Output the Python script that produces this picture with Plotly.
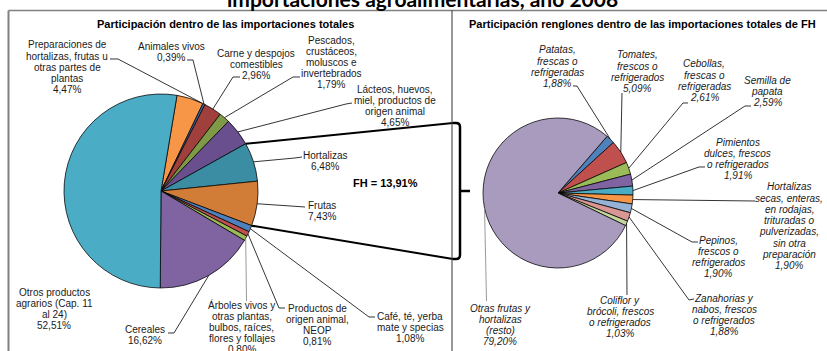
import math
import plotly.graph_objects as go

W, H = 827, 351

# ---- data: share of total agri-food imports (left pie) ----
tot_names = [
    "Preparaciones de hortalizas, frutas u otras partes de plantas",
    "Animales vivos",
    "Carne y despojos comestibles",
    "Pescados, crustáceos, moluscos e invertebrados",
    "Lácteos, huevos, miel, productos de origen animal",
    "Hortalizas",
    "Frutas",
    "Café, té, yerba mate y specias",
    "Productos de origen animal, NEOP",
    "Árboles vivos y otras plantas, bulbos, raíces, flores y follajes",
    "Cereales",
    "Otros productos agrarios (Cap. 11 al 24)",
]
tot_values = [4.47, 0.39, 2.96, 1.79, 4.65, 6.48, 7.43, 1.08, 0.81, 0.80, 16.62, 52.51]
tot_lines = [
    ["Preparaciones de", "hortalizas, frutas u", "otras partes de", "plantas"],
    ["Animales vivos"],
    ["Carne y despojos", "comestibles"],
    ["Pescados,", "crustáceos,", "moluscos e", "invertebrados"],
    ["Lácteos, huevos,", "miel, productos de", "origen animal"],
    ["Hortalizas"],
    ["Frutas"],
    ["Café, té, yerba", "mate y specias"],
    ["Productos de", "origen animal,", "NEOP"],
    ["Árboles vivos y", "otras plantas,", "bulbos, raíces,", "flores y follajes"],
    ["Cereales"],
    ["Otros productos", "agrarios (Cap. 11", "al 24)"],
]
fh_items = ["Hortalizas", "Frutas"]

# ---- data: breakdown of fruit & vegetable (FH) imports (right pie) ----
fh_names = [
    "Patatas, frescas o refrigeradas",
    "Tomates, frescos o refrigerados",
    "Cebollas, frescas o refrigeradas",
    "Semilla de papata",
    "Pimientos dulces, frescos o refrigerados",
    "Hortalizas secas, enteras, en rodajas, trituradas o pulverizadas, sin otra preparación",
    "Pepinos, frescos o refrigerados",
    "Zanahorias y nabos, frescos o refrigerados",
    "Coliflor y brócoli, frescos o refrigerados",
    "Otras frutas y hortalizas (resto)",
]
fh_values = [1.88, 5.09, 2.61, 2.59, 1.91, 1.90, 1.90, 1.88, 1.03, 79.20]
fh_lines = [
    ["Patatas,", "frescas o", "refrigeradas"],
    ["Tomates,", "frescos o", "refrigerados"],
    ["Cebollas,", "frescas o", "refrigeradas"],
    ["Semilla de", "papata"],
    ["Pimientos", "dulces, frescos", "o refrigerados"],
    ["Hortalizas", "secas, enteras,", "en rodajas,", "trituradas o", "pulverizadas,", "sin otra", "preparación"],
    ["Pepinos,", "frescos o", "refrigerados"],
    ["Zanahorias y", "nabos, frescos", "o refrigerados"],
    ["Coliflor y", "brócoli, frescos", "o refrigerados"],
    ["Otras frutas y", "hortalizas", "(resto)"],
]

# ---- styling ----
tot_colors = ["#F79646", "#3B66A0", "#A0403D", "#7E9A47", "#6A4F8E", "#3A8DA3",
              "#D17D38", "#4F81BD", "#C0504D", "#9BBB59", "#8064A2", "#4BACC6"]
fh_colors = ["#4F81BD", "#C0504D", "#9BBB59", "#8064A2", "#4BACC6", "#F79646",
             "#95B3D7", "#D99694", "#C3D69B", "#A89BBE"]

FONT = "Liberation Sans, Arial, sans-serif"
TXT = "#1a1a1a"
LINE_H = 11.2

# pie geometry (pixels)
L_CX, L_CY, L_R, L_ROT = 161, 191, 97, 9.5
R_CX, R_CY, R_R, R_ROT = 558, 193, 75, 40.9


def px(x):
    return x / W


def py(y):
    return 1 - y / H


def fmt(v):
    return f"{v:.2f}".replace(".", ",") + "%"


def slice_point(values, idx, rot, cx, cy, r, frac=0.5):
    total = sum(values)
    ang = rot + 360 * (sum(values[:idx]) + values[idx] * frac) / total
    a = math.radians(ang)
    return cx + r * math.sin(a), cy - r * math.cos(a)


def path(points):
    return "M " + " L ".join(f"{px(x):.5f},{py(y):.5f}" for x, y in points)


# label placement: (center x, first line y, leader points near label, anchor fraction, leader colour)
tot_place = [
    (67, 45, [(110, 59), (118, 59)], 0.95, "#000"),
    (171, 46, [(187, 60), (193, 60)], 0.5, "#000"),
    (256, 53, [(240, 77), (233, 77)], 0.5, "#000"),
    (331, 40, [(300, 77), (293, 77)], 0.5, "#000"),
    (395, 89, [(352, 103), (346, 104)], 0.5, "#000"),
    (325, 155, [(302, 157), (295, 158)], 0.5, "#000"),
    (322, 205, [(305, 207)], 0.5, "#000"),
    (410, 316, [(375, 317), (369, 317)], 0.5, "#000"),
    (317, 308, [(285, 308), (279, 308)], 0.5, "#000"),
    (242, 305, [(246.5, 301)], 0.5, "#7f7f7f"),
    (145, 329, [(168, 333), (174, 333)], 0.5, "#000"),
    (54, 292, None, 0.5, "#000"),
]
fh_place = [
    (557, 50, [(573, 86), (577, 86)], 0.5, "#000"),
    (637, 55, [(622, 93)], 0.5, "#000"),
    (704, 64, [(688, 103), (683, 103)], 0.5, "#000"),
    (767, 80, [(751, 106), (745, 106)], 0.5, "#000"),
    (737.5, 142, [(705, 167), (699, 167)], 0.5, "#000"),
    (789, 187, [(755, 201)], 0.5, "#000"),
    (718, 240, [(698, 242), (692, 242)], 0.5, "#000"),
    (724, 298, [(694, 299), (689, 300)], 0.5, "#000"),
    (620, 300, [(627, 295)], 0.5, "#000"),
    (500, 308, [(486.5, 301)], 0.5, "#7f7f7f"),
]

fig = go.Figure()

fig.add_trace(go.Pie(
    labels=tot_names, values=tot_values, sort=False, direction="clockwise",
    rotation=L_ROT, textinfo="none", showlegend=False,
    marker=dict(colors=tot_colors, line=dict(color="#000", width=0.75)),
    domain=dict(x=[px(L_CX - L_R), px(L_CX + L_R)], y=[py(L_CY + L_R), py(L_CY - L_R)]),
    hovertemplate="%{label}: %{value:.2f}%<extra></extra>",
))
fig.add_trace(go.Pie(
    labels=fh_names, values=fh_values, sort=False, direction="clockwise",
    rotation=R_ROT, textinfo="none", showlegend=False,
    marker=dict(colors=fh_colors, line=dict(color="#000", width=0.75)),
    domain=dict(x=[px(R_CX - R_R), px(R_CX + R_R)], y=[py(R_CY + R_R), py(R_CY - R_R)]),
    hovertemplate="%{label}: %{value:.2f}%<extra></extra>",
))

annotations = []
shapes = []


def add_labels(values, lines, place, geom, italic):
    cx0, cy0, r0, rot0 = geom
    for i, (v, ls) in enumerate(zip(values, lines)):
        x, y0, lead, frac, lcol = place[i]
        for k, t in enumerate(ls + [fmt(v)]):
            annotations.append(dict(
                x=px(x), y=py(y0 + k * LINE_H), xref="paper", yref="paper",
                text=f"<i>{t}</i>" if italic else t, showarrow=False,
                xanchor="center", yanchor="middle",
                font=dict(family=FONT, size=10, color=TXT),
            ))
        if lead:
            ex, ey = slice_point(values, i, rot0, cx0, cy0, r0, frac)
            shapes.append(dict(type="path", xref="paper", yref="paper",
                               path=path(lead + [(ex, ey)]),
                               line=dict(color=lcol, width=0.8)))


add_labels(tot_values, tot_lines, tot_place, (L_CX, L_CY, L_R, L_ROT), False)
add_labels(fh_values, fh_lines, fh_place, (R_CX, R_CY, R_R, R_ROT), True)

# connector from the FH slices of the left pie to the bracket
i_first = tot_names.index(fh_items[0])
i_last = tot_names.index(fh_items[-1])
p_top = slice_point(tot_values, i_first, L_ROT, L_CX, L_CY, L_R, 0.0)
p_bot = slice_point(tot_values, i_last, L_ROT, L_CX, L_CY, L_R, 1.0)
shapes.append(dict(type="path", xref="paper", yref="paper",
                   path=path([p_top, (453, 123)]), line=dict(color="#000", width=2)))
shapes.append(dict(type="path", xref="paper", yref="paper",
                   path=path([p_bot, (453, 259)]), line=dict(color="#000", width=2)))
bracket = (f"M {px(453):.5f},{py(123):.5f} L {px(456):.5f},{py(123):.5f} "
           f"Q {px(460):.5f},{py(123):.5f} {px(460):.5f},{py(127):.5f} "
           f"L {px(460):.5f},{py(255):.5f} "
           f"Q {px(460):.5f},{py(259):.5f} {px(456):.5f},{py(259):.5f} "
           f"L {px(453):.5f},{py(259):.5f}")
shapes.append(dict(type="path", xref="paper", yref="paper", path=bracket,
                   line=dict(color="#000", width=2.5)))
shapes.append(dict(type="path", xref="paper", yref="paper",
                   path=path([(460, 191), (470, 191)]), line=dict(color="#000", width=2.5)))

fh_total = sum(tot_values[tot_names.index(n)] for n in fh_items)
annotations.append(dict(
    x=px(385), y=py(183), xref="paper", yref="paper", showarrow=False,
    text="<b>FH = " + fmt(fh_total) + "</b>", xanchor="center", yanchor="middle",
    font=dict(family=FONT, size=11, color="#000"),
))

# panel frames
shapes.append(dict(type="line", xref="paper", yref="paper", x0=px(8.5), x1=1,
                   y0=py(10.5), y1=py(10.5), line=dict(color="#808080", width=1.5)))
shapes.append(dict(type="line", xref="paper", yref="paper", x0=px(8.5), x1=px(8.5),
                   y0=py(10.5), y1=0, line=dict(color="#808080", width=2)))
shapes.append(dict(type="line", xref="paper", yref="paper", x0=px(452), x1=px(452),
                   y0=py(10.5), y1=0, line=dict(color="#333", width=1)))

# titles
annotations.append(dict(
    x=px(423), y=py(13), xref="paper", yref="paper", showarrow=False,
    text="<b>importaciones agroalimentarias, año 2008</b>",
    xanchor="center", yanchor="bottom",
    font=dict(family="Lato, Liberation Sans, sans-serif", size=21, color="#000"),
))
annotations.append(dict(
    x=px(225), y=py(24), xref="paper", yref="paper", showarrow=False,
    text="<b>Participación dentro de las importaciones totales</b>",
    xanchor="center", yanchor="middle",
    font=dict(family=FONT, size=11, color="#000"),
))
annotations.append(dict(
    x=px(642), y=py(24), xref="paper", yref="paper", showarrow=False,
    text="<b>Participación renglones dentro de las importaciones totales de FH</b>",
    xanchor="center", yanchor="middle",
    font=dict(family=FONT, size=11, color="#000"),
))

fig.update_layout(
    width=W, height=H, margin=dict(l=0, r=0, t=0, b=0),
    paper_bgcolor="white", plot_bgcolor="white",
    annotations=annotations, shapes=shapes,
)

fig.write_html("out.html", config={"displayModeBar": False})
